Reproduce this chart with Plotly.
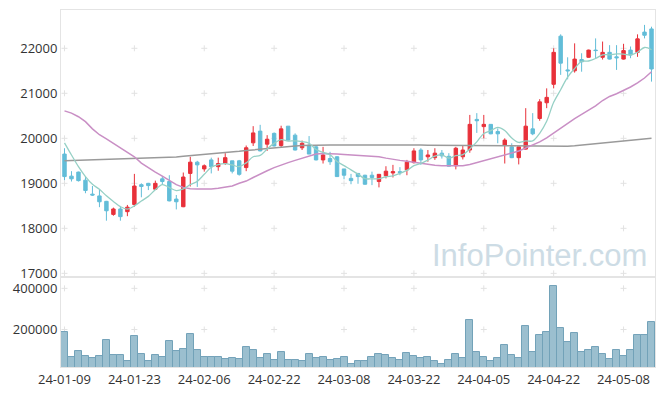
import plotly.graph_objects as go
from plotly.subplots import make_subplots

dates = [
    "24-01-09", "24-01-10", "24-01-11", "24-01-12", "24-01-15", "24-01-16", "24-01-17", "24-01-18", "24-01-19", "24-01-22",
    "24-01-23", "24-01-24", "24-01-25", "24-01-26", "24-01-29", "24-01-30", "24-01-31", "24-02-01", "24-02-02", "24-02-05",
    "24-02-06", "24-02-07", "24-02-08", "24-02-13", "24-02-14", "24-02-15", "24-02-16", "24-02-19", "24-02-20", "24-02-21",
    "24-02-22", "24-02-23", "24-02-26", "24-02-27", "24-02-28", "24-02-29", "24-03-04", "24-03-05", "24-03-06", "24-03-07",
    "24-03-08", "24-03-11", "24-03-12", "24-03-13", "24-03-14", "24-03-15", "24-03-18", "24-03-19", "24-03-20", "24-03-21",
    "24-03-22", "24-03-25", "24-03-26", "24-03-27", "24-03-28", "24-03-29", "24-04-01", "24-04-02", "24-04-03", "24-04-04",
    "24-04-05", "24-04-08", "24-04-09", "24-04-11", "24-04-12", "24-04-15", "24-04-16", "24-04-17", "24-04-18", "24-04-19",
    "24-04-22", "24-04-23", "24-04-24", "24-04-25", "24-04-26", "24-04-29", "24-04-30", "24-05-02", "24-05-03", "24-05-07",
    "24-05-08", "24-05-09", "24-05-10", "24-05-13", "24-05-14",
]

open_ = [
    19650, 19160, 19250, 19070, 18760, 18720, 18600, 18310, 18430, 18370,
    18530, 18970, 19000, 18870, 19100, 19040, 18650, 18480, 19220, 19470,
    19320, 19520, 19370, 19440, 19500, 19500, 19350, 19900, 20160, 19870,
    20110, 19840, 20270, 20070, 19790, 19850, 19810, 19520, 19550, 19590,
    19320, 19110, 19220, 19180, 19180, 19040, 19170, 19230, 19260, 19300,
    19460, 19740, 19590, 19570, 19670, 19600, 19390, 19590, 19740, 20420,
    20260, 20310, 20150, 19840, 19810, 19570, 19760, 20210, 20440, 20790,
    21200, 22270, 21520, 21500, 21750, 21800, 21960, 21800, 21910, 21810,
    21760, 21960, 21910, 22360, 22430,
]
high = [
    19780, 19270, 19260, 19160, 18940, 18870, 18610, 18460, 18480, 18520,
    19210, 19000, 19010, 19060, 19160, 19180, 18740, 19240, 19590, 19500,
    19420, 19570, 19570, 19670, 19500, 19520, 19840, 20270, 20300, 20070,
    20130, 20280, 20270, 20110, 19950, 20050, 19830, 19810, 19700, 19600,
    19320, 19210, 19230, 19190, 19260, 19200, 19380, 19410, 19360, 19520,
    19780, 19780, 19740, 19780, 19740, 19670, 19810, 19850, 20520, 20560,
    20520, 20310, 20220, 20000, 19890, 19810, 20670, 20560, 20870, 21110,
    22000, 22310, 21800, 22110, 21890, 21970, 22220, 22150, 22070, 22070,
    22100, 22040, 22310, 22520, 22480,
]
low = [
    19070, 19040, 19040, 18780, 18720, 18470, 18170, 18280, 18170, 18270,
    18480, 18690, 18850, 18860, 18980, 18600, 18420, 18470, 18930, 18920,
    19260, 19220, 19280, 19410, 19220, 19170, 19270, 19830, 19710, 19720,
    19820, 19790, 19950, 19730, 19740, 19650, 19510, 19440, 19410, 19140,
    19090, 18980, 18990, 18970, 18960, 18910, 19110, 19130, 19180, 19180,
    19440, 19410, 19480, 19520, 19550, 19370, 19310, 19530, 19680, 20120,
    20000, 20090, 19890, 19440, 19560, 19420, 19750, 20070, 20390, 20670,
    21110, 21410, 21310, 21460, 21480, 21790, 21780, 21750, 21750, 21520,
    21750, 21780, 21810, 22220, 21260,
]
close = [
    19150, 19100, 19060, 18840, 18740, 18590, 18390, 18430, 18260, 18470,
    18940, 18930, 18950, 19000, 19040, 18610, 18590, 19140, 19470, 19410,
    19390, 19370, 19440, 19570, 19270, 19200, 19790, 20120, 19720, 19980,
    19830, 20210, 19960, 19740, 19890, 19650, 19520, 19630, 19480, 19150,
    19180, 19060, 19150, 18980, 19130, 19200, 19270, 19260, 19240, 19470,
    19720, 19520, 19630, 19670, 19610, 19380, 19780, 19740, 20310, 20390,
    20310, 20100, 20100, 19960, 19570, 19810, 20270, 20100, 20810, 20910,
    21910, 21670, 21500, 21760, 21700, 21960, 21950, 21910, 21760, 21790,
    21950, 21850, 22210, 22290, 21540,
]

ma5 = [
    19900, 19630, 19370, 19150, 18978, 18866, 18724, 18598, 18482, 18428,
    18498, 18606, 18710, 18858, 18972, 18906, 18838, 18876, 18970, 19044,
    19200, 19356, 19416, 19436, 19408, 19370, 19454, 19590, 19620, 19762,
    19888, 19972, 19940, 19944, 19926, 19890, 19752, 19686, 19634, 19486,
    19392, 19300, 19204, 19104, 19100, 19104, 19146, 19168, 19220, 19288,
    19392, 19442, 19516, 19602, 19630, 19562, 19614, 19636, 19764, 19920,
    20106, 20170, 20242, 20172, 20008, 19908, 19942, 19942, 20112, 20380,
    20800, 21080, 21360, 21550, 21708, 21718, 21774, 21856, 21856, 21874,
    21872, 21852, 21912, 22018, 21968,
]
ma20 = [
    20610, 20560, 20480, 20370, 20210, 20080, 19990, 19890, 19800, 19700,
    19590, 19450, 19340, 19250, 19160, 19060, 18970, 18910, 18880, 18875,
    18870, 18875, 18890, 18910, 18940, 19000, 19050, 19130, 19210, 19280,
    19350, 19410, 19460, 19510, 19560, 19610, 19650, 19665, 19665, 19650,
    19640, 19630, 19620, 19615, 19600, 19590, 19560, 19530, 19510, 19490,
    19465, 19450, 19420, 19400, 19390, 19390, 19390, 19390, 19420, 19460,
    19500, 19540, 19590, 19630, 19675, 19720, 19790, 19860, 19920, 20010,
    20120, 20240, 20340, 20440, 20530, 20620, 20720, 20840, 20930, 20990,
    21060, 21140, 21230, 21340, 21480,
]
ma120 = [
    19500, 19505, 19510, 19515, 19518, 19522, 19526, 19530, 19535, 19540,
    19545, 19550, 19556, 19562, 19568, 19575, 19585, 19600, 19612, 19625,
    19640, 19655, 19668, 19682, 19696, 19710, 19728, 19745, 19760, 19775,
    19790, 19805, 19818, 19830, 19838, 19845, 19848, 19850, 19852, 19854,
    19855, 19855, 19855, 19855, 19855, 19855, 19854, 19853, 19852, 19851,
    19850, 19849, 19848, 19847, 19846, 19845, 19843, 19841, 19839, 19837,
    19835, 19832, 19830, 19828, 19826, 19824, 19822, 19820, 19818, 19816,
    19815, 19818, 19825, 19835, 19850, 19870, 19890, 19905, 19920, 19935,
    19950, 19962, 19975, 19988, 20000,
]
volume = [
    185400, 68300, 94100, 73200, 63400, 73200, 146300, 78000, 78000, 45400,
    165900, 82900, 48800, 78000, 68300, 141500, 97600, 107300, 175600, 102400,
    68300, 68300, 68300, 58500, 63400, 58500, 117100, 102400, 63400, 82900,
    53700, 92700, 53700, 53700, 48800, 82900, 63400, 68300, 53700, 58500,
    68300, 34100, 48800, 48800, 68300, 82900, 78000, 63400, 53700, 87800,
    73200, 63400, 68300, 48800, 34100, 53700, 82900, 63400, 243900, 92700,
    68300, 48800, 63400, 126800, 78000, 63400, 214600, 92700, 170700, 185400,
    409800, 204900, 136600, 180500, 92700, 102400, 117100, 82900, 58500, 102400,
    73200, 102400, 170700, 170700, 234100,
]

price_ticks = [17000, 18000, 19000, 20000, 21000, 22000]
volume_ticks = [200000, 400000]
tick_dates = dates[::10]

UP = "#e8313a"
DOWN = "#62bdd8"
GRID = "#e2e2e2"
FRAME = "#e4e4e4"

fig = make_subplots(rows=2, cols=1, shared_xaxes=True, vertical_spacing=0,
                    row_heights=[0.748, 0.252])

fig.add_trace(go.Scatter(x=dates, y=ma120, mode="lines",
                         line=dict(color="#9a9a9a", width=1.5)), row=1, col=1)
fig.add_trace(go.Scatter(x=dates, y=ma20, mode="lines",
                         line=dict(color="#c98fc5", width=1.5)), row=1, col=1)
fig.add_trace(go.Scatter(x=dates, y=ma5, mode="lines", line_shape="spline",
                         line=dict(color="#96d0c5", width=1.3)), row=1, col=1)

fig.add_trace(go.Candlestick(
    x=dates, open=open_, high=high, low=low, close=close,
    increasing=dict(line=dict(color=UP, width=1), fillcolor=UP),
    decreasing=dict(line=dict(color=DOWN, width=1), fillcolor=DOWN),
    whiskerwidth=0), row=1, col=1)

fig.add_trace(go.Bar(x=dates, y=volume,
                     marker=dict(color="#9bbfcf", line=dict(color="#72a2b8", width=1)),
                     ), row=2, col=1)

# faint "+" grid marks at tick intersections, drawn beneath the data
def add_cross(xval, yval, xref, yref):
    fig.add_shape(type="line", layer="below", xref=xref, yref=yref,
                  xsizemode="pixel", xanchor=xval, x0=-3, x1=3,
                  y0=yval, y1=yval, line=dict(color=GRID, width=1))
    fig.add_shape(type="line", layer="below", xref=xref, yref=yref,
                  ysizemode="pixel", yanchor=yval, y0=-3, y1=3,
                  x0=xval, x1=xval, line=dict(color=GRID, width=1))

for d in tick_dates:
    for p in price_ticks:
        add_cross(d, p, "x", "y")
    for v in volume_ticks:
        add_cross(d, v, "x2", "y2")

fig.add_annotation(text="InfoPointer.com", xref="paper", yref="paper",
                   x=0.805, y=0.311, xanchor="center", yanchor="middle",
                   showarrow=False,
                   font=dict(family="Liberation Sans", size=31, color="#cddce5"))

axis_font = dict(family="Open Sans", size=13, color="#333333")
fig.update_xaxes(type="category", categoryorder="array", categoryarray=dates,
                 range=[-0.5, len(dates) - 0.5], showgrid=False,
                 showline=True, linecolor=FRAME, mirror=True, automargin=False,
                 rangeslider_visible=False, ticks="", zeroline=False)
fig.update_xaxes(showticklabels=False, row=1, col=1)
fig.update_xaxes(tickmode="array", tickvals=tick_dates, ticktext=tick_dates,
                 tickfont=axis_font, row=2, col=1)
fig.update_yaxes(range=[16918, 22851], tickvals=price_ticks, tickformat="d",
                 showgrid=False, automargin=False,
                 showline=True, linecolor=FRAME, mirror=True, zeroline=False,
                 tickfont=axis_font, ticks="", row=1, col=1)
fig.update_yaxes(range=[17600, 455000], tickvals=volume_ticks, tickformat="d",
                 showgrid=False, automargin=False,
                 showline=True, linecolor=FRAME, mirror=True, zeroline=False,
                 tickfont=axis_font, ticks="", row=2, col=1)

# page body has an 8px margin: size the figure so the plot lands where the reference has it
fig.update_layout(width=649, height=380, margin=dict(l=53, r=2, t=2, b=21),
                  paper_bgcolor="white", plot_bgcolor="white",
                  showlegend=False, hovermode=False, bargap=0)

fig.write_html("out.html")
